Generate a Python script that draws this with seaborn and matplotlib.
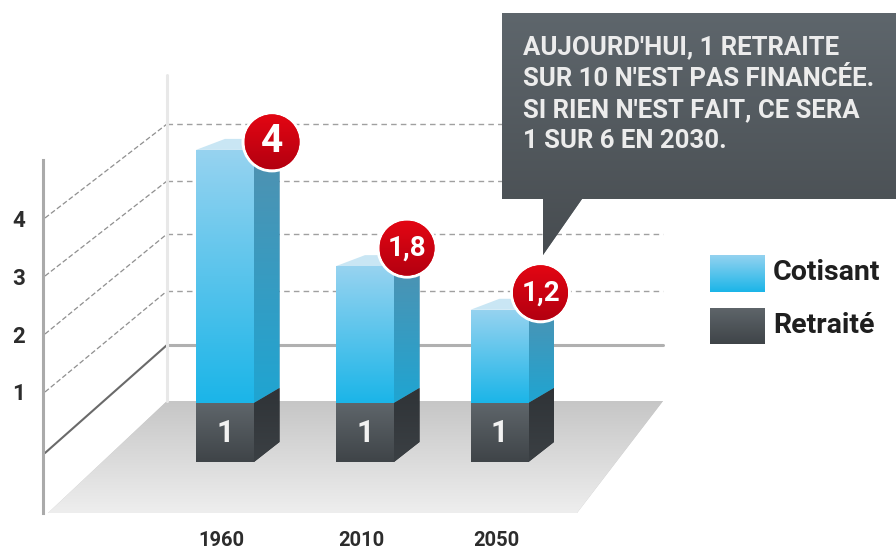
import numpy as np
import pandas as pd
import matplotlib
matplotlib.use("Agg")
import matplotlib.pyplot as plt
from matplotlib.colors import LinearSegmentedColormap
from matplotlib.patches import Polygon, Ellipse
import seaborn as sns

# ---- data ----
years = ["1960", "2010", "2050"]
retraites = [1.0, 1.0, 1.0]
cotisants_drawn = [4.29, 2.32, 1.58]   # drawn height of the blue part, in units of the dark part
ratio_labels = ["4", "1,8", "1,2"]
retraite_labels = ["1", "1", "1"]
axis_ticks = [1, 2, 3, 4]
legend_names = ["Cotisant", "Retraité"]
callout_lines = ["AUJOURD'HUI, 1 RETRAITE", "SUR 10 N'EST PAS FINANCÉE.",
                 "SI RIEN N'EST FAIT, CE SERA", "1 SUR 6 EN 2030."]

# ---- layout (pixels of the 896x554 picture) ----
W, H = 896, 554
X0, XU = 225.0, 137.25    # px of category 0, px per category
Y0, YU = 462.0, 59.0      # px of value 0, px per value unit
FONT = "Roboto"
BLUE = ("#97d3f0", "#1bb5e8")
BLUE_SIDE = ("#5390ae", "#1fa5d2")
DARK = ("#5f666b", "#3f4448")
DARK_SIDE = ("#2f3337", "#3b4044")
CALLOUT = ("#5e666c", "#474c50")
RED = ("#e30613", "#b30010")
FLOOR = ("#c6c6c6", "#eeeeee")

def dx(px): return (px - X0) / XU
def dy(py): return (Y0 - py) / YU
def pts(seq): return [(dx(a), dy(b)) for a, b in seq]

sns.set_theme(style="white")
plt.rcParams["font.family"] = [FONT, "DejaVu Sans"]
fig = plt.figure(figsize=(W / 100, H / 100), dpi=100, facecolor="white")

AX_BOTTOM = 530
ax = fig.add_axes([0, (H - AX_BOTTOM) / H, 1, AX_BOTTOM / H])
XLIM = (dx(0), dx(W))
YLIM = (dy(AX_BOTTOM), dy(0))

def gradient(colors, x0, x1, ytop, ybot, clip, z):
    cmap = LinearSegmentedColormap.from_list("g", colors)
    arr = np.linspace(0, 1, 256).reshape(-1, 1)
    im = ax.imshow(arr, cmap=cmap, vmin=0, vmax=1, aspect="auto", origin="upper",
                   extent=(x0, x1, ybot, ytop), zorder=z, interpolation="bilinear")
    im.set_clip_path(clip)
    return im

def shape(points, colors, z):
    """Polygon in px-derived data coords, filled with a vertical gradient."""
    poly = Polygon(points, closed=True, facecolor=colors[0], edgecolor="none", zorder=z)
    ax.add_patch(poly)
    xs, ys = zip(*points)
    gradient(colors, min(xs), max(xs), max(ys), min(ys), poly, z + 0.01)
    return poly

df = pd.DataFrame({"year": years, "Retraité": retraites,
                   "total": np.add(retraites, cotisants_drawn)})
sns.barplot(data=df, x="year", y="total", color=BLUE[1], saturation=1, width=58 / XU,
            ax=ax, zorder=3, linewidth=0, legend=False)
n_blue = len(ax.patches)
sns.barplot(data=df, x="year", y="Retraité", color=DARK[1], saturation=1, width=58 / XU,
            ax=ax, zorder=3, linewidth=0, legend=False)
blue_bars = ax.patches[:n_blue]
dark_bars = ax.patches[n_blue:]

# the middle group sits slightly right of an even spacing
for bars in (blue_bars, dark_bars):
    bars[1].set_x(bars[1].get_x() + 2.75 / XU)

# ---- floor and back wall ----
shape(pts([(48, 513), (167, 401), (663, 401), (577, 513)]), FLOOR, 1)
ax.plot(*zip(*pts([(167, 75), (167, 401)])), color="#e8e8e8", lw=2.2, zorder=1.5)

# ---- left axis, on its own scale ----
AY_TOP, AY_BOT = 160, 513
tick_ax = fig.add_axes([43 / W, (H - AY_BOT) / H, 0.14, (AY_BOT - AY_TOP) / H])
tick_ax.patch.set_alpha(0)
TICK0, TICKU = 450.0, 58.0
tick_ax.set_ylim((TICK0 - AY_BOT) / TICKU, (TICK0 - AY_TOP) / TICKU)
tick_ax.set_xlim(0, 1)
tick_ax.set_xticks([])
tick_ax.set_yticks(axis_ticks)
tick_ax.set_yticklabels([str(t) for t in axis_ticks], fontsize=16, fontweight="bold",
                        color="#2c2c2c", fontfamily=FONT)
tick_ax.tick_params(axis="y", length=0, pad=13)
sns.despine(ax=tick_ax, top=True, right=True, bottom=True)
tick_ax.spines["left"].set_color("#aaaaaa")
tick_ax.spines["left"].set_linewidth(2.2)

# ---- gridlines: from the axis scale to the back wall ----
wall_y = [291, 234, 181, 124]
WALL0 = 345.0
for v, wy in zip(axis_ticks, wall_y):
    front_y = TICK0 - TICKU * v
    ax.plot(*zip(*pts([(45, front_y), (167, wy)])), color="#8f8f8f", lw=0.9,
            ls=(0, (4, 2)), zorder=1.2)
    ax.plot(*zip(*pts([(167, wy), (663, wy)])), color="#a0a0a0", lw=1.0,
            ls=(0, (4, 3)), zorder=1.2)
ax.plot(*zip(*pts([(45, TICK0 + 3), (167, WALL0)])), color="#6a6a6a", lw=1.5, zorder=1.2)
ax.plot(*zip(*pts([(167, WALL0), (663, WALL0)])), color="#b0b0b0", lw=2.2, zorder=1.2)

# ---- bars with their 3D faces, built from the bar patches ----
SIDE = 25.5 / XU
RISE_TOP, RISE_BOT = 15 / YU, 20 / YU
bubble_dx = [18, 13, 12]
bubble_dy = [8, 18, 17]
R_OUT, R_IN = 30.5, 27.5
for i, (b, d) in enumerate(zip(blue_bars, dark_bars)):
    l, r = b.get_x(), b.get_x() + b.get_width()
    top, mid = b.get_height(), d.get_height()
    gradient(BLUE, l, r, top, mid, b, 3.01)
    gradient(DARK, l, r, mid, 0, d, 3.02)
    d.set_zorder(3.015)
    shape([(r, top), (r + SIDE, top + RISE_TOP), (r + SIDE, mid + RISE_TOP), (r, mid)],
          BLUE_SIDE, 3)
    shape([(r, mid), (r + SIDE, mid + RISE_TOP), (r + SIDE, RISE_BOT), (r, 0)],
          DARK_SIDE, 3)
    ax.add_patch(Polygon([(l, top), (l + (r - l) * 0.5, top + 11 / YU),
                          (r + SIDE, top + 11 / YU), (r, top)],
                         closed=True, facecolor="#c9e6f4", edgecolor="none", zorder=2.9))
    ax.text((l + r) / 2, mid / 2, retraite_labels[i], color="#f2f2f2", fontsize=22,
            fontweight="bold", ha="center", va="center", zorder=4)
    cx = r + bubble_dx[i] / XU
    cy = top + bubble_dy[i] / YU
    ax.add_patch(Ellipse((cx, cy), 2 * R_OUT / XU, 2 * R_OUT / YU, facecolor="white",
                         edgecolor="none", zorder=5))
    inner = Ellipse((cx, cy), 2 * R_IN / XU, 2 * R_IN / YU, facecolor=RED[0],
                    edgecolor="none", zorder=5.1)
    ax.add_patch(inner)
    gradient(RED, cx - R_IN / XU, cx + R_IN / XU, cy + R_IN / YU, cy - R_IN / YU, inner, 5.2)
    ax.text(cx, cy, ratio_labels[i], color="white", fontweight="bold",
            fontsize=28 if i == 0 else 20, ha="center", va="center", zorder=5.3)

# ---- callout ----
shape(pts([(502, 13), (896, 13), (896, 199), (582, 199), (543, 255), (543, 199), (502, 199)]),
      CALLOUT, 6)
for line, py in zip(callout_lines, [47, 79, 110, 141]):
    ax.text(dx(523), dy(py), line, color="#ececec", fontsize=18.5, fontweight="bold",
            ha="left", va="center", zorder=7)

# ---- legend ----
for name, colors, (t, bt), ty in zip(legend_names, [BLUE, DARK], [(255, 292), (308, 344)], [273, 326]):
    shape(pts([(710, t), (765, t), (765, bt), (710, bt)]), colors, 6)
    ax.text(dx(773), dy(ty), name, color="#1f1f1f", fontsize=20.5, fontweight="bold",
            ha="left", va="center", zorder=7)

# ---- x axis ----
centers = [b.get_x() + b.get_width() / 2 - 3.5 / XU for b in blue_bars]
ax.set_xticks(centers)
ax.set_xticklabels(years, fontsize=14.5, fontweight="bold", color="#2c2c2c")
ax.tick_params(axis="x", length=0, pad=1)
ax.set_yticks([])
ax.set_xlabel("")
ax.set_ylabel("")
sns.despine(ax=ax, left=True, bottom=True)
ax.set_xlim(*XLIM)
ax.set_ylim(*YLIM)
ax.patch.set_alpha(0)

fig.savefig("out.png", dpi=100)
